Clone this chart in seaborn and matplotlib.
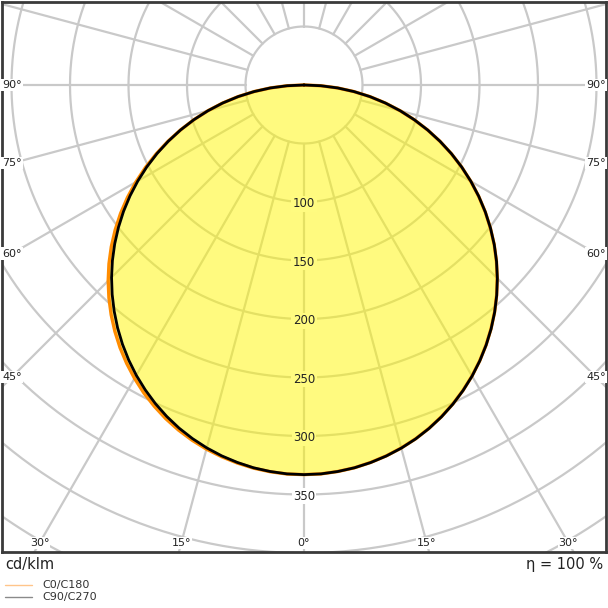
import numpy as np
import pandas as pd
import matplotlib
matplotlib.use("Agg")
import matplotlib.pyplot as plt
import seaborn as sns
from matplotlib.lines import Line2D

# ---------------- data ----------------
gamma = [0, 2.5, 5, 7.5, 10, 12.5, 15, 17.5, 20, 22.5, 25, 27.5, 30, 32.5, 35, 37.5,
         40, 42.5, 45, 47.5, 50, 52.5, 55, 57.5, 60, 62.5, 65, 67.5, 70, 72.5, 75,
         77.5, 80, 82.5, 85, 87.5, 90]
i_c0 = [333, 332.7, 331.6, 330.0, 327.6, 324.7, 321.2, 317.1, 312.3, 306.9, 300.9,
        294.3, 287.2, 279.5, 271.3, 262.6, 253.4, 243.7, 233.6, 223.1, 212.2, 200.8,
        189.1, 177.0, 164.6, 151.9, 139.0, 125.8, 112.4, 98.8, 85.1, 71.2, 57.2,
        43.0, 28.8, 14.4, 0]
i_c180 = [333, 332.8, 331.8, 330.3, 328.1, 325.4, 322.2, 318.3, 313.8, 308.7, 302.9,
          296.6, 289.6, 282.1, 274.1, 265.5, 256.4, 246.8, 236.7, 226.1, 215.0, 203.4,
          191.4, 178.9, 166.0, 152.8, 139.4, 125.9, 112.3, 98.7, 85.0, 71.2, 57.2,
          43.0, 28.8, 14.4, 0]
i_c90 = [333, 332.7, 331.6, 330.0, 327.7, 324.8, 321.3, 317.2, 312.4, 307.0, 301.0,
         294.4, 287.3, 279.6, 271.4, 262.7, 253.5, 243.8, 233.7, 223.2, 212.3, 200.9,
         189.2, 177.1, 164.7, 152.0, 139.1, 125.9, 112.5, 98.9, 85.2, 71.3, 57.3,
         43.1, 28.8, 14.4, 0]
i_c270 = [333, 332.7, 331.6, 330.0, 327.6, 324.7, 321.1, 316.9, 312.1, 306.6, 300.5,
          293.8, 286.6, 278.8, 270.5, 261.7, 252.4, 242.7, 232.6, 222.1, 211.2, 199.9,
          188.3, 176.3, 164.0, 151.4, 138.6, 125.5, 112.2, 98.7, 85.0, 71.2, 57.2,
          43.0, 28.8, 14.4, 0]

grid_radii = [50, 100, 150, 200, 250, 300, 350, 400, 450, 500, 550]
grid_angles = list(range(0, 360, 15))
radial_labels = [100, 150, 200, 250, 300, 350]
side_angle_labels = [90, 75, 60, 45]
bottom_angle_labels = [-30, -15, 0, 15, 30]
unit_label = "cd/klm"
eff_label = "η = 100 %"
legend_labels = ["C0/C180", "C90/C270"]

# ---------------- style ----------------
sns.set_theme(style="white")
plt.rcParams["font.family"] = ["DejaVu Sans"]

W = H = 608
DPI = 100
PX = 1.17  # pixels per cd/klm
fig = plt.figure(figsize=(W / DPI, H / DPI), dpi=DPI)
ax = fig.add_axes([2 / W, 56 / H, 604 / W, 550 / H])

xmax = 302 / PX
ytop = 83 / PX
ybot = -467 / PX
ax.set_xlim(-xmax, xmax)
ax.set_ylim(ybot, ytop)
ax.set_xticks([])
ax.set_yticks([])
for s in ax.spines.values():
    s.set_color("#3a3a3a")
    s.set_linewidth(2.0)

grid_col = "#c9c9c9"
# circles
th = np.linspace(0, 2 * np.pi, 721)
for r in grid_radii:
    ax.plot(r * np.sin(th), r * np.cos(th), color=grid_col, lw=1.6, zorder=1)
# spokes
for a in grid_angles:
    ar = np.deg2rad(a)
    ax.plot([50 * np.sin(ar), 700 * np.sin(ar)], [-50 * np.cos(ar), -700 * np.cos(ar)],
            color=grid_col, lw=1.6, zorder=1)


def half_curve(vals_left, vals_right):
    g = np.deg2rad(np.array(gamma, dtype=float))
    vl = np.array(vals_left, dtype=float)
    vr = np.array(vals_right, dtype=float)
    xl = -vl * np.sin(g)
    yl = -vl * np.cos(g)
    xr = vr * np.sin(g)
    yr = -vr * np.cos(g)
    x = np.concatenate([xl[::-1], xr[1:]])
    y = np.concatenate([yl[::-1], yr[1:]])
    return pd.DataFrame({"x": x, "y": y, "k": np.arange(len(x))})


df_a = half_curve(i_c180, i_c0)
df_b = half_curve(i_c270, i_c90)

ax.fill(df_a["x"], df_a["y"], color="#fff700", alpha=0.5, lw=0, zorder=2)
sns.lineplot(data=df_a, x="x", y="y", sort=False, estimator=None, color="#ff8c00",
             lw=2.4, ax=ax, zorder=3)
sns.lineplot(data=df_b, x="x", y="y", sort=False, estimator=None, color="#000000",
             lw=2.0, ax=ax, zorder=4)
ax.set_xlabel("")
ax.set_ylabel("")

# radial labels
peak = max(i_c0)
for r in radial_labels:
    fc = "#fffb80" if r < peak else "white"
    ax.text(0, -r - 1.5, str(r), ha="center", va="center", fontsize=8.5, color="#222222",
            zorder=6, bbox=dict(boxstyle="square,pad=0.12", fc=fc, ec="none"))

# angle labels
inset = 10 / PX
for a in side_angle_labels:
    ar = np.deg2rad(a)
    t = (xmax - inset) / np.sin(ar)
    y = -t * np.cos(ar)
    for sgn in (-1, 1):
        ax.text(sgn * (xmax - inset), y, f"{a}°", ha="center", va="center", fontsize=8,
                color="#222222", zorder=6,
                bbox=dict(boxstyle="square,pad=0.1", fc="white", ec="none"))
for a in bottom_angle_labels:
    ar = np.deg2rad(a)
    yb = ybot + 9 / PX
    x = (-yb) * np.tan(ar)
    ax.text(x, yb, f"{abs(a)}°", ha="center", va="center", fontsize=8, color="#222222",
            zorder=6, bbox=dict(boxstyle="square,pad=0.1", fc="white", ec="none"))

# bottom texts
fig.text(5 / W, 1 - 565 / H, unit_label, ha="left", va="center", fontsize=10.5, color="#222222")
fig.text(603 / W, 1 - 565 / H, eff_label, ha="right", va="center", fontsize=10.5, color="#222222")

# legend
leg_cols = ["#ffc58a", "#8a8a8a"]
for i, (lab, c) in enumerate(zip(legend_labels, leg_cols)):
    yy = 1 - (585 + 12 * i) / H
    fig.add_artist(Line2D([5 / W, 32 / W], [yy, yy], color=c, lw=1.0, transform=fig.transFigure))
    fig.text(42 / W, yy, lab, ha="left", va="center", fontsize=8, color="#333333")

fig.savefig("out.png", dpi=DPI)
